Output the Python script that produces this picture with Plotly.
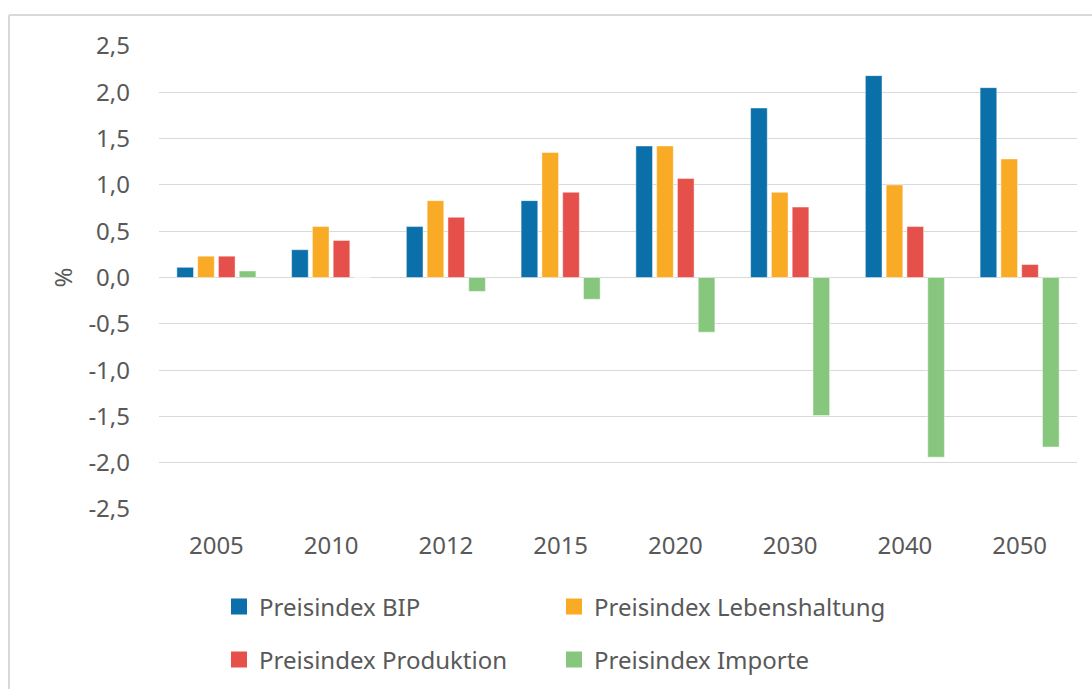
import plotly.graph_objects as go

# Jahre (Kategorien)
jahre = ["2005", "2010", "2012", "2015", "2020", "2030", "2040", "2050"]

# Veränderung der Preisindizes in %
preis_bip = [0.11, 0.30, 0.55, 0.83, 1.42, 1.83, 2.18, 2.05]
preis_lebenshaltung = [0.23, 0.55, 0.83, 1.35, 1.42, 0.92, 1.00, 1.28]
preis_produktion = [0.23, 0.40, 0.65, 0.92, 1.07, 0.76, 0.55, 0.14]
preis_importe = [0.07, 0.0, -0.15, -0.235, -0.59, -1.49, -1.94, -1.83]

# Achsenbeschriftung der y-Achse
y_ticks = [-2.5, -2.0, -1.5, -1.0, -0.5, 0.0, 0.5, 1.0, 1.5, 2.0, 2.5]
y_ticktext = ["-2,5", "-2,0", "-1,5", "-1,0", "-0,5", "0,0", "0,5", "1,0", "1,5", "2,0", "2,5"]

FONT = "Noto Sans"
FS = 24
TEXT = "#595959"
GRID = "#d9d9d9"

serien = [
    ("Preisindex BIP", preis_bip, "#0b6faa", "legend"),
    ("Preisindex Lebenshaltung", preis_lebenshaltung, "#f9ab26", "legend"),
    ("Preisindex Produktion", preis_produktion, "#e6504a", "legend2"),
    ("Preisindex Importe", preis_importe, "#86c67d", "legend2"),
]

fig = go.Figure()
for name, werte, farbe, leg in serien:
    fig.add_trace(go.Bar(
        x=jahre, y=werte, name=name, showlegend=False,
        marker=dict(color=farbe, line=dict(color="rgba(255,255,255,0.55)", width=0.8)),
    ))

# Legendeneinträge mit quadratischen Symbolen
for name, werte, farbe, leg in serien:
    fig.add_trace(go.Scatter(
        x=[None], y=[None], mode="markers", name=name, legend=leg,
        marker=dict(symbol="square", size=16, color=farbe),
        hoverinfo="skip",
    ))

legend_style = dict(
    orientation="h", xanchor="left", yanchor="middle",
    font=dict(family=FONT, size=FS, color=TEXT),
    entrywidth=290, entrywidthmode="pixels",
    bgcolor="rgba(0,0,0,0)", itemclick=False, itemdoubleclick=False,
)

fig.update_layout(
    width=1092, height=689,
    margin=dict(l=159, r=15, t=46, b=180, autoexpand=False),
    paper_bgcolor="white", plot_bgcolor="white",
    barmode="group", bargap=0.275, bargroupgap=0.2,
    font=dict(family=FONT, size=FS, color=TEXT),
    showlegend=True,
    legend=dict(x=(219 - 159) / 918, y=(509 - 607) / 463, **legend_style),
    legend2=dict(x=(219 - 159) / 918, y=(509 - 660) / 463, **legend_style),
    xaxis=dict(
        type="category", showgrid=False, showline=False, ticks="",
        tickfont=dict(family=FONT, size=FS, color=TEXT),
        ticklabelstandoff=20, fixedrange=True,
    ),
    yaxis=dict(
        range=[-2.5, 2.5], tickvals=y_ticks, ticktext=y_ticktext,
        showgrid=True, gridcolor=GRID, gridwidth=1,
        zeroline=True, zerolinecolor=GRID, zerolinewidth=1,
        showline=False, ticks="",
        tickfont=dict(family=FONT, size=FS, color=TEXT),
        ticklabelstandoff=28, fixedrange=True,
    ),
    annotations=[dict(
        text="%", textangle=-90, showarrow=False,
        xref="paper", yref="y", x=(62 - 159) / 918, y=0,
        xanchor="center", yanchor="middle",
        font=dict(family=FONT, size=FS, color=TEXT),
    )],
    shapes=[
        # Rahmen des Diagrammbereichs (oben und links)
        dict(type="line", xref="paper", yref="paper",
             x0=(9 - 159) / 918, x1=(1100 - 159) / 918,
             y0=(509 - 15) / 463, y1=(509 - 15) / 463,
             line=dict(color=GRID, width=2)),
        dict(type="line", xref="paper", yref="paper",
             x0=(9 - 159) / 918, x1=(9 - 159) / 918,
             y0=(509 - 15) / 463, y1=(509 - 700) / 463,
             line=dict(color=GRID, width=2)),
    ],
)

fig.write_html("out.html")
